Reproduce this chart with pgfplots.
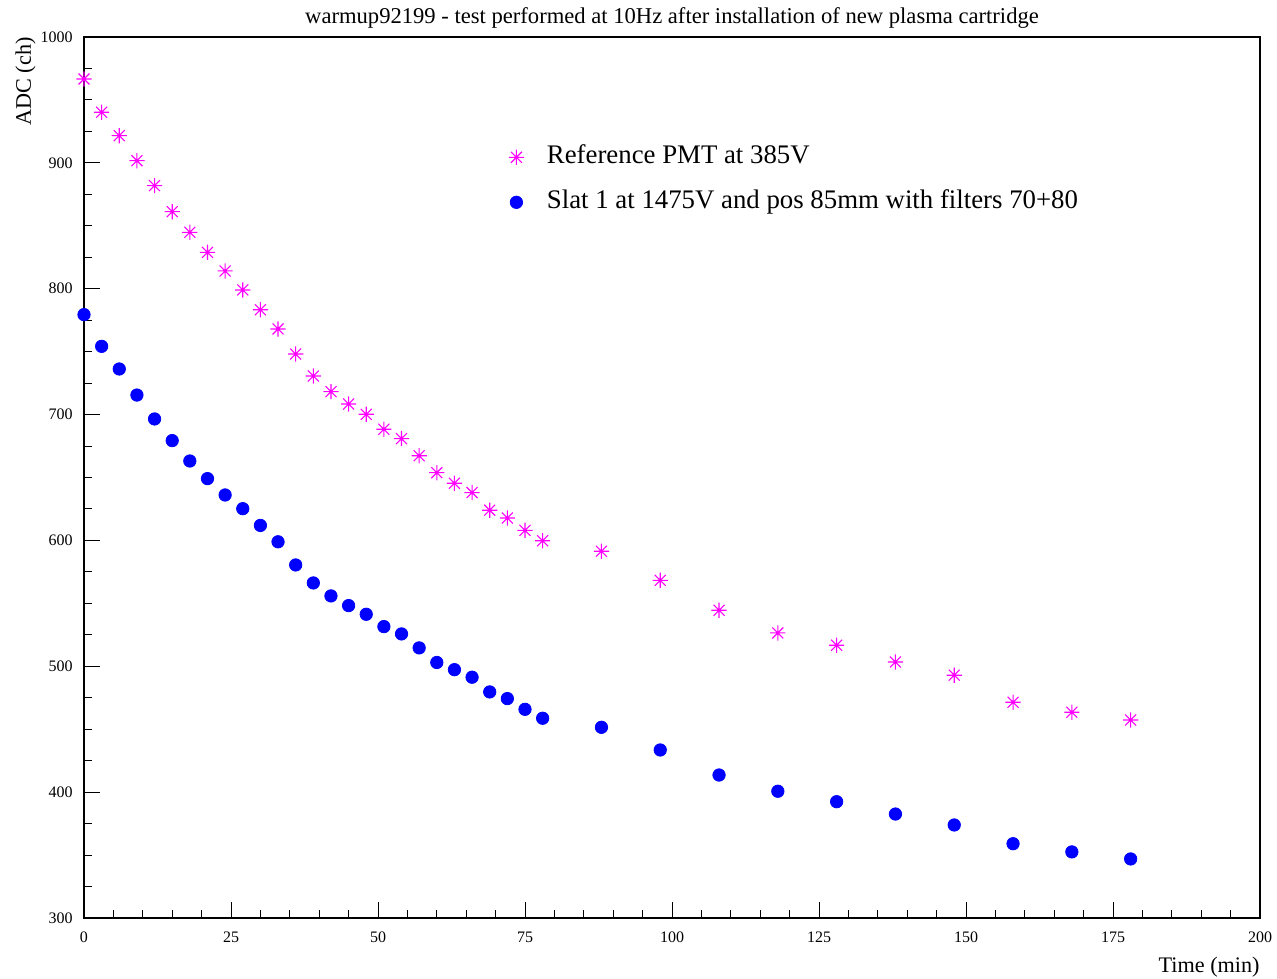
\documentclass[border=0pt]{standalone}
\usepackage{fontspec}
\setmainfont{Liberation Serif}
\usepackage{pgfplots}
\pgfplotsset{compat=1.18}
\usepackage{pgfplotstable}

% eight-spoke star marker (horizontal, vertical and both diagonals)
\pgfdeclareplotmark{star8}{%
  \pgfpathmoveto{\pgfqpoint{-\pgfplotmarksize}{0pt}}%
  \pgfpathlineto{\pgfqpoint{\pgfplotmarksize}{0pt}}%
  \pgfpathmoveto{\pgfqpoint{0pt}{-\pgfplotmarksize}}%
  \pgfpathlineto{\pgfqpoint{0pt}{\pgfplotmarksize}}%
  \pgfpathmoveto{\pgfqpoint{-0.72\pgfplotmarksize}{-0.72\pgfplotmarksize}}%
  \pgfpathlineto{\pgfqpoint{0.72\pgfplotmarksize}{0.72\pgfplotmarksize}}%
  \pgfpathmoveto{\pgfqpoint{-0.72\pgfplotmarksize}{0.72\pgfplotmarksize}}%
  \pgfpathlineto{\pgfqpoint{0.72\pgfplotmarksize}{-0.72\pgfplotmarksize}}%
  \pgfusepathqstroke}

\definecolor{refmag}{RGB}{255,0,255}
\definecolor{slatblue}{RGB}{0,0,255}

% reference PMT: time (min), ADC (ch)
\pgfplotstableread{
t   adc
0   966.6
3   940.2
6   921.6
9   901.7
12  881.9
15  861.2
18  844.8
21  828.9
24  814.1
27  799.0
30  783.3
33  768.0
36  748.1
39  730.6
42  718.2
45  708.4
48  700.2
51  688.3
54  680.9
57  667.3
60  653.8
63  645.4
66  638.0
69  624.0
72  617.8
75  608.0
78  599.7
88  591.4
98  568.3
108 544.5
118 526.5
128 516.7
138 503.4
148 492.9
158 471.4
168 463.5
178 457.3
}\refpmt

% slat 1: time (min), ADC (ch)
\pgfplotstableread{
t   adc
0   779.4
3   754.2
6   736.2
9   715.5
12  696.5
15  679.3
18  663.1
21  649.1
24  636.1
27  625.2
30  611.9
33  598.9
36  580.5
39  566.2
42  555.9
45  548.2
48  541.3
51  531.5
54  525.7
57  514.6
60  503.0
63  497.3
66  491.3
69  479.6
72  474.3
75  465.8
78  458.7
88  451.5
98  433.5
108 413.6
118 400.7
128 392.4
138 382.6
148 373.9
158 359.0
168 352.5
178 346.9
}\slatone

\begin{document}
\begin{tikzpicture}
\begin{axis}[
  name=ax,
  scale only axis,
  width=588bp, height=440.5bp,
  xmin=0, xmax=200, ymin=300, ymax=1000,
  xtick={0,25,...,200}, ytick={300,400,...,1000},
  minor x tick num=4, minor y tick num=3,
  tick align=inside,
  xtick pos=bottom, ytick pos=left,
  major tick length=8bp, minor tick length=4bp,
  axis line style={line width=0.6bp, black},
  every tick/.style={line width=0.5bp, black},
  /pgf/number format/assume math mode=true,
  /pgf/number format/1000 sep={},
  tick label style={font=\fontsize{8bp}{9.6bp}\selectfont},
  yticklabel style={inner sep=0pt, anchor=east, xshift=-5.5bp},
  xticklabel style={inner sep=0pt, anchor=north, yshift=-6.8bp},
  title={warmup92199 - test performed at 10Hz after installation of new plasma cartridge},
  title style={font=\fontsize{11.3bp}{13.5bp}\selectfont, at={(rel axis cs:0.5,1)}, anchor=base, yshift=0.8bp, inner sep=0pt},
  xlabel={Time (min)},
  xlabel style={font=\fontsize{11.1bp}{13.3bp}\selectfont, at={(rel axis cs:1,0)}, anchor=base east, yshift=-27.5bp, inner sep=0pt},
  ylabel={ADC (ch)},
  ylabel style={font=\fontsize{11.1bp}{13.3bp}\selectfont, at={([xshift=-26.5bp]rel axis cs:0,1)}, rotate=0, anchor=base east, inner sep=0pt},
  legend style={draw=none, fill=none,
    font=\fontsize{13.4bp}{16bp}\selectfont,
    at={(rel axis cs:0.355,0.882)}, anchor=north west,
    row sep=10.5bp,
    nodes={inner sep=0pt, text height=9bp, text depth=3bp}},
  legend cell align=left,
  legend image code/.code={%
    \path (-4bp,0bp) (15bp,0bp);
    \draw[#1] plot coordinates {(0bp,0bp)};},
]
\addplot[only marks, mark=star8, mark size=3.8bp, draw=refmag, line width=0.55bp]
  table[x=t, y=adc] {\refpmt};
\addlegendentry{Reference PMT at 385V}
\addplot[only marks, mark=*, mark size=3.1bp, draw=slatblue, fill=slatblue]
  table[x=t, y=adc] {\slatone};
\addlegendentry{Slat 1 at 1475V and pos 85mm with filters 70+80}
\end{axis}
\path ([shift={(-42bp,-30.5bp)}]ax.south west) rectangle ([shift={(8.5bp,18.5bp)}]ax.north east);
\end{tikzpicture}
\end{document}
